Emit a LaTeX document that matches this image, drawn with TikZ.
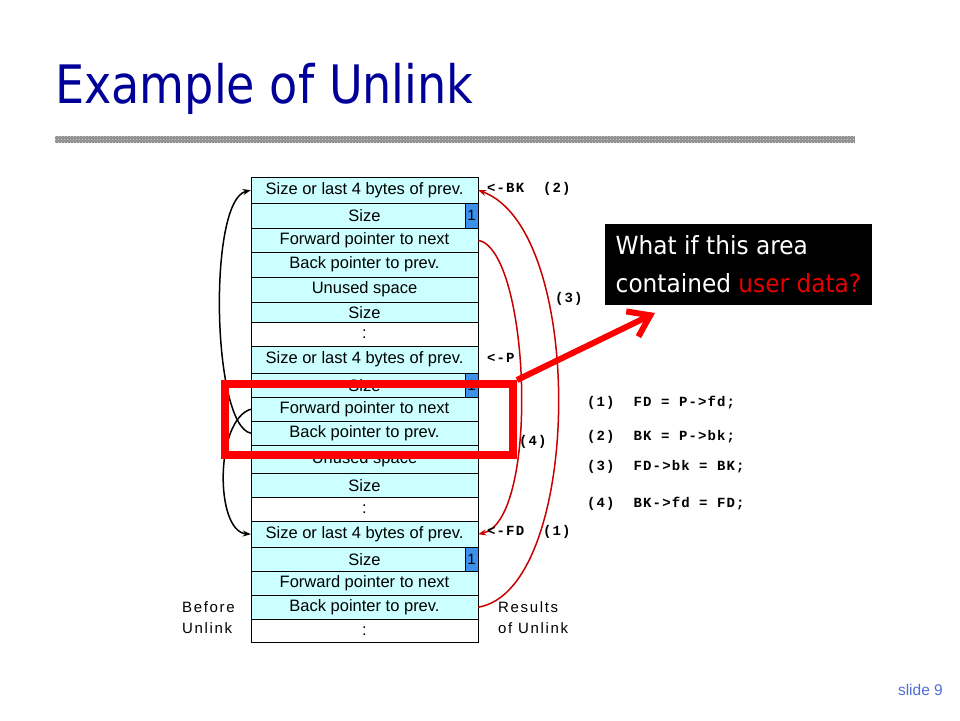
\documentclass[tikz,border=0pt]{standalone}
\usepackage{fontspec}
\setmainfont{Liberation Sans}
\newfontfamily\codefont[LetterSpace=8]{Liberation Mono}
\newfontfamily\spacedfont[LetterSpace=11]{Liberation Sans}
\newfontfamily\headfont[FakeStretch=0.87]{DejaVu Sans}
\newfontfamily\notefont[FakeStretch=0.93]{DejaVu Sans}
\usetikzlibrary{arrows.meta, patterns}
\definecolor{titleblue}{RGB}{0,0,153}
\definecolor{cellcyan}{RGB}{204,255,255}
\definecolor{flagblue}{RGB}{60,145,235}
\definecolor{linkred}{RGB}{200,0,0}
\definecolor{notered}{RGB}{230,0,0}
\definecolor{slideblue}{RGB}{80,110,215}

\begin{document}
\begin{tikzpicture}[x=1pt, y=-1pt,
    cell/.style={draw, fill=cellcyan, minimum width=227, inner sep=0, anchor=north,
      font=\fontsize{16.5}{19}\selectfont},
    gap/.style={cell, fill=white},
    flag/.style={draw, fill=flagblue, minimum width=13, inner sep=0, anchor=north east,
      font=\fontsize{15}{18}\selectfont},
    lbl/.style={anchor=west, inner sep=0, font=\codefont\bfseries\fontsize{14}{16}\selectfont},
    side/.style={anchor=west, inner sep=0, align=left, font=\spacedfont\fontsize{15}{21}\selectfont},
    oldlink/.style={line width=1.5, -{Stealth[length=8pt,width=6pt]}},
    newlink/.style={oldlink, linkred},
  ]
    \useasboundingbox (0,0) rectangle (960,720);
    \fill[white] (0,0) rectangle (960,720);

    % title and bar
    \node[anchor=base west, inner sep=0, text=titleblue, font=\headfont\fontsize{53}{60}\selectfont]
      (title) at (55,103) {Example of Unlink};
    \fill[black!45] (55,136) rectangle (855,143);
    \fill[pattern=crosshatch dots, pattern color=black!15] (55,136) rectangle (855,143);

    % the chunks
    \foreach \i/\yy/\hh/\sty/\txt in {
        1/177/26/cell/{Size or last 4 bytes of prev.}, 2/203/25/cell/Size,
        3/228/24/cell/{Forward pointer to next}, 4/252/25/cell/{Back pointer to prev.},
        5/277/25/cell/{Unused space}, 6/302/20/cell/Size, 7/322/24/gap/:,
        8/346/27/cell/{Size or last 4 bytes of prev.}, 9/373/24/cell/Size,
        10/397/24/cell/{Forward pointer to next}, 11/421/24/cell/{Back pointer to prev.},
        12/445/28/cell/{Unused space}, 13/473/24/cell/Size, 14/497/24/gap/:,
        15/521/26/cell/{Size or last 4 bytes of prev.}, 16/547/24/cell/Size,
        17/571/24/cell/{Forward pointer to next}, 18/595/24/cell/{Back pointer to prev.},
        19/619/23/gap/:}
      \node[\sty, minimum height=\hh] (c\i) at (364.5,\yy) {\txt};
    \foreach \i/\hh in {2/25, 9/24, 16/24}
      \node[flag, minimum height=\hh] (f\i) at (c\i.north east) {1};

    % pointers before and after
    \draw[oldlink] (c11.west) .. controls +(-39,-8) and +(-43,10) .. (c1.west);
    \draw[oldlink] (c10.west) .. controls +(-36,11) and +(-36,-3) .. (c15.west);
    \draw[newlink] (c3.east) .. controls +(52,10) and +(62,-14) .. (c15.east);
    \draw[newlink] (c18.east) .. controls +(104,-17) and +(109,40) .. (c1.east);

    \node[lbl] (bk) at (487,189) {<-BK\ \ (2)};
    \node[lbl] (p) at (487,358) {<-P};
    \node[lbl] (fd) at (487,532) {<-FD\ \ (1)};
    \node[lbl] (n3) at (555,299) {(3)};
    \node[lbl] (n4) at (519,442) {(4)};

    \node[lbl] (s1) at (587,403) {(1)\ \ FD = P->fd;};
    \node[lbl] (s2) at (587,437) {(2)\ \ BK = P->bk;};
    \node[lbl] (s3) at (587,467) {(3)\ \ FD->bk = BK;};
    \node[lbl] (s4) at (587,504) {(4)\ \ BK->fd = FD;};

    \node[side] (before) at (182,618) {Before\\Unlink};
    \node[side] (results) at (498,618) {Results\\of Unlink};

    % the question
    \node[draw=red, line width=8, minimum width=288, minimum height=71, inner sep=0]
      (area) at (369,419.5) {};
    \node[fill=black, text=white, minimum width=267, minimum height=81, inner sep=0,
      align=left, font=\notefont\fontsize{25}{38}\selectfont]
      (note) at (738.5,264.5) {What if this area\\contained \textcolor{notered}{user data?}};
    \coordinate (tip) at (655,313);
    \draw[red, line width=6, -{Straight Barb[length=20pt,width=28pt]}] (area.north east) -- (tip);

    \node[anchor=east, inner sep=0, text=slideblue, font=\fontsize{15.5}{18}\selectfont]
      (slide) at (943,690) {slide 9};
\end{tikzpicture}
\end{document}
